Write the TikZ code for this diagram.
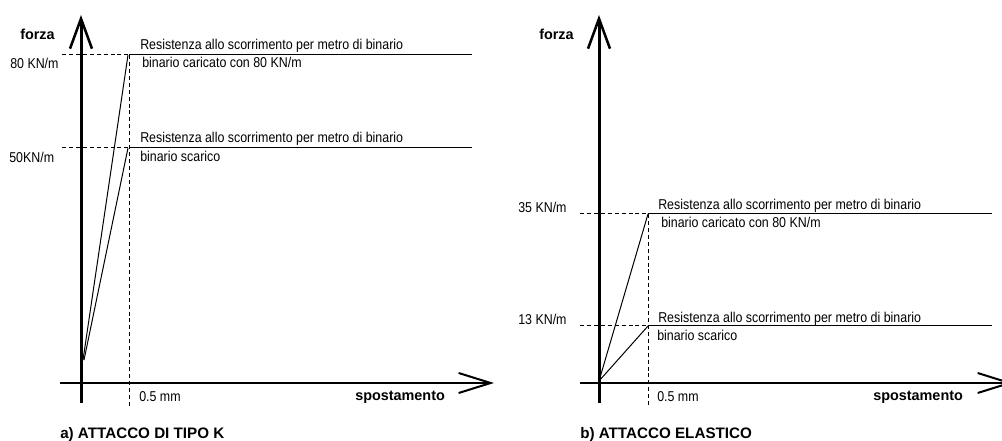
\documentclass[tikz,border=0pt]{standalone}
\usepackage{fontspec}
\setmainfont[FakeStretch=0.87]{Liberation Sans}
\newfontfamily\widesans{Liberation Sans}
\usetikzlibrary{arrows.meta}
\tikzset{
  px/.style={x=0.75pt,y=-0.75pt},
  lbl/.style={anchor=base west,inner sep=0pt,font=\fontsize{10.7}{12}\selectfont},
  blbl/.style={anchor=base west,inner sep=0pt,font=\widesans\fontsize{10.8}{13}\selectfont\bfseries},
  captxt/.style={anchor=base west,inner sep=0pt,font=\widesans\fontsize{11.4}{14}\selectfont\bfseries},
  vaxis/.style={line width=2.25pt,-{Straight Barb[length=22.5pt,width=16.5pt,line width=1.9pt]}},
  haxis/.style={line width=1.5pt,-{Straight Barb[length=24pt,width=15pt,line width=1.5pt]}},
  guide/.style={line width=0.75pt,dash pattern=on 3pt off 2.2pt},
  level/.style={line width=0.75pt},
  slope/.style={line width=0.75pt},
}
\begin{document}
\begin{tikzpicture}[px]
\useasboundingbox (0,0) rectangle (1002,441);
% ---------------- left chart ----------------
\coordinate (aO) at (81,383);
\draw[vaxis] (81,403) -- (81,15);
\draw[haxis] (60,383) -- (494,383);
\draw[guide] (129,55) -- (129,407);
\draw[guide] (62,55) -- (129,55);
\draw[guide] (62,148) -- (129,148);
\coordinate (aT1) at (129,55);
\coordinate (aT2) at (129,148);
\draw[level] (aT1) -- (472,55);
\draw[level] (aT2) -- (472,148);
\draw[slope] (83,360) -- (128,55);
\draw[slope] (84,360) -- (128,148);
\node[blbl] (aF) at (20,40) {forza};
\node[lbl] (a80) at (10,69) {80 KN/m};
\node[lbl] (a50) at (9,163) {50KN/m};
\node[lbl] (aR1) at (140,50) {Resistenza allo scorrimento per metro di binario};
\node[lbl] (aB1) at (142,68) {binario caricato con 80 KN/m};
\node[lbl] (aR2) at (140,143) {Resistenza allo scorrimento per metro di binario};
\node[lbl] (aB2) at (140,162) {binario scarico};
\node[lbl] (aMM) at (139,401) {0.5 mm};
\node[blbl] (aSp) at (355,400) {spostamento};
\node[captxt] (aCap) at (60,438) {a) ATTACCO DI TIPO K};
% ---------------- right chart ----------------
\draw[vaxis] (599,403) -- (599,15);
\draw[haxis] (580,383) -- (1013,383);
\draw[guide] (648,214) -- (648,405);
\draw[guide] (580,214) -- (648,214);
\draw[guide] (580,326) -- (648,326);
\draw[level] (648,214) -- (992,214);
\draw[level] (648,326) -- (992,326);
\draw[slope] (599,381) -- (648,214);
\draw[slope] (599,381) -- (648,326);
\node[blbl] (bF) at (539,40) {forza};
\node[lbl] (b35) at (518,213) {35 KN/m};
\node[lbl] (b13) at (518,325) {13 KN/m};
\node[lbl] (bR1) at (658,210) {Resistenza allo scorrimento per metro di binario};
\node[lbl] (bB1) at (661,228) {binario caricato con 80 KN/m};
\node[lbl] (bR2) at (658,322) {Resistenza allo scorrimento per metro di binario};
\node[lbl] (bB2) at (657,340) {binario scarico};
\node[lbl] (bMM) at (657,401) {0.5 mm};
\node[blbl] (bSp) at (873,400) {spostamento};
\node[captxt] (bCap) at (580,438) {b) ATTACCO ELASTICO};
\end{tikzpicture}
\end{document}
